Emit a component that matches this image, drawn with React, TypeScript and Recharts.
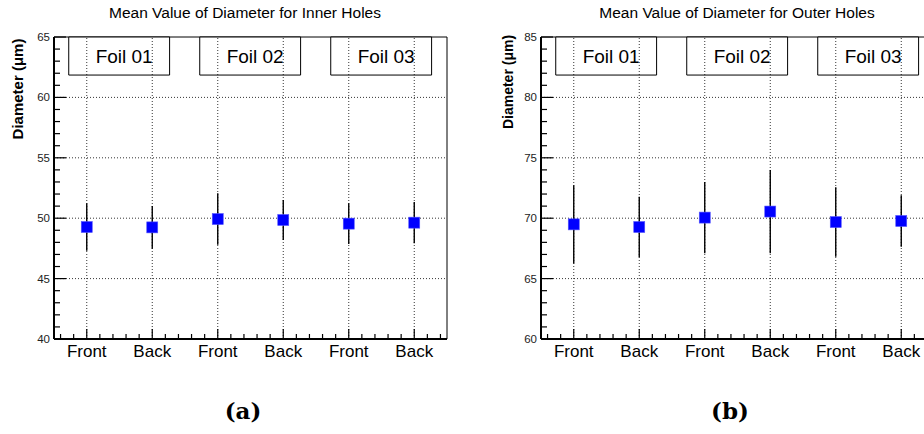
import React from 'react';
import { ScatterChart, Scatter, XAxis, YAxis, ErrorBar, ReferenceLine, ReferenceArea } from 'recharts';

const categories = ['Front', 'Back', 'Front', 'Back', 'Front', 'Back'];
const foils = ['Foil 01', 'Foil 02', 'Foil 03'];
const innerMean = [49.27, 49.24, 49.93, 49.85, 49.55, 49.63];
const innerErr = [1.96, 1.76, 2.13, 1.65, 1.69, 1.71];
const outerMean = [69.49, 69.27, 70.05, 70.55, 69.68, 69.77];
const outerErr = [3.23, 2.51, 2.95, 3.45, 2.88, 2.13];
const innerRange = [40, 65];
const outerRange = [60, 85];

const FONT = '"Liberation Sans", Arial, Helvetica, sans-serif';
const W = 460;
const H = 434;

const xTicks = Array.from({ length: 30 }, (_, k) => (2 * k + 1) / 10);

const XTick = (props: any) => {
  const { x, y, payload } = props;
  const v = payload.value;
  const major = Math.round(v * 10) % 10 === 5;
  return (
    <g>
      <line x1={x} x2={x} y1={y} y2={y - (major ? 10 : 5)} stroke="#000" strokeWidth={1.2} />
      {major && (
        <text x={x} y={y + 18} textAnchor="middle" fontSize={17} fontFamily={FONT} fill="#000">
          {categories[Math.floor(v)]}
        </text>
      )}
    </g>
  );
};

const YTick = (props: any) => {
  const { x, y, payload } = props;
  const major = payload.value % 5 === 0;
  return (
    <g>
      <line x1={x} x2={x + (major ? 12 : 6)} y1={y} y2={y} stroke="#000" strokeWidth={1.2} />
      {major && (
        <text x={x - 4} y={y} dy={4} textAnchor="end" fontSize={11.5} fontFamily={FONT} fill="#222">
          {payload.value}
        </text>
      )}
    </g>
  );
};

const Marker = (props: any) => {
  const { cx, cy } = props;
  return <rect x={cx - 5.5} y={cy - 5.5} width={11} height={11} fill="#0000ff" stroke="#5555ff" strokeWidth={0.6} />;
};

const foilLabel = (p: any) => {
  const vb = p.viewBox;
  return (
    <text x={vb.x + vb.width / 2 + 5} y={vb.y + vb.height / 2 + 7} textAnchor="middle" fontSize={19} fontFamily={FONT} fill="#000">
      {p.value}
    </text>
  );
};

interface PanelProps {
  title: string;
  mean: number[];
  err: number[];
  range: number[];
  caption: string;
  left: number;
  titleX: number;
  labelX: number;
  labelY: number;
  labelSize: number;
}

function Panel({ title, mean, err, range, caption, left, titleX, labelX, labelY, labelSize }: PanelProps) {
  const data = mean.map((m, i) => ({ x: i + 0.5, y: m, err: err[i] }));
  const yTicks = Array.from({ length: range[1] - range[0] + 1 }, (_, k) => range[0] + k);
  const yGrid = yTicks.filter(v => v % 5 === 0 && v !== range[0] && v !== range[1]);
  const boxBottom = range[1] - 3.15;

  return (
    <div style={{ position: 'absolute', left, top: 0, width: W, height: H }}>
      <ScatterChart width={W} height={H} margin={{ top: 37, right: 13, bottom: 65, left: 0 }}>
        <XAxis
          type="number"
          dataKey="x"
          domain={[0, 6]}
          ticks={xTicks}
          interval={0}
          allowDataOverflow
          tickSize={0}
          tickMargin={0}
          tickLine={false}
          height={30}
          axisLine={{ stroke: '#000', strokeWidth: 2 }}
          tick={<XTick />}
        />
        <YAxis
          type="number"
          dataKey="y"
          domain={range}
          ticks={yTicks}
          interval={0}
          allowDataOverflow
          tickSize={0}
          tickMargin={0}
          tickLine={false}
          width={54}
          axisLine={{ stroke: '#000', strokeWidth: 2 }}
          tick={<YTick />}
        />
        {yGrid.map(v => (
          <ReferenceLine key={'h' + v} y={v} stroke="#000" strokeWidth={0.8} strokeDasharray="1 2" />
        ))}
        {categories.map((_, i) => (
          <ReferenceLine key={'v' + i} x={i + 0.5} stroke="#000" strokeWidth={0.8} strokeDasharray="1 2" />
        ))}
        <ReferenceArea x1={0} x2={6} y1={range[0]} y2={range[1]} fill="none" stroke="#000" strokeWidth={1} />
        {foils.map((f, g) => (
          <ReferenceArea
            key={f}
            x1={2 * g + 0.225}
            x2={2 * g + 1.765}
            y1={boxBottom}
            y2={range[1]}
            fill="#fff"
            fillOpacity={1}
            stroke="#000"
            strokeWidth={1}
            label={{ value: f, content: foilLabel }}
          />
        ))}
        <Scatter data={data} shape={<Marker />} isAnimationActive={false}>
          <ErrorBar dataKey="err" direction="y" width={0} stroke="#000" strokeWidth={1.4} />
        </Scatter>
      </ScatterChart>
      <div
        style={{
          position: 'absolute', left: titleX, top: 13, transform: 'translate(-50%, -50%)',
          whiteSpace: 'nowrap', fontFamily: FONT, fontSize: 15.5, color: '#000',
        }}
      >
        {title}
      </div>
      <div
        style={{
          position: 'absolute', left: labelX, top: labelY, transform: 'translate(-50%, -50%) rotate(-90deg)',
          whiteSpace: 'nowrap', fontFamily: FONT, fontSize: labelSize, fontWeight: 'bold', color: '#000',
        }}
      >
        Diameter (μm)
      </div>
      <div
        style={{
          position: 'absolute', left: 243, top: 410, transform: 'translate(-50%, -50%)',
          whiteSpace: 'nowrap', fontFamily: '"DejaVu Serif", serif', fontSize: 23, fontWeight: 'bold', color: '#000',
        }}
      >
        {caption}
      </div>
    </div>
  );
}

export default function App() {
  return (
    <div style={{ position: 'absolute', left: 0, top: 0, width: 924, height: 434, overflow: 'hidden', background: '#fff' }}>
      <Panel
        title="Mean Value of Diameter for Inner Holes"
        mean={innerMean}
        err={innerErr}
        range={innerRange}
        caption="(a)"
        left={0}
        titleX={245}
        labelX={17}
        labelY={89}
        labelSize={15}
      />
      <Panel
        title="Mean Value of Diameter for Outer Holes"
        mean={outerMean}
        err={outerErr}
        range={outerRange}
        caption="(b)"
        left={487}
        titleX={250}
        labelX={21}
        labelY={82}
        labelSize={14}
      />
    </div>
  );
}
